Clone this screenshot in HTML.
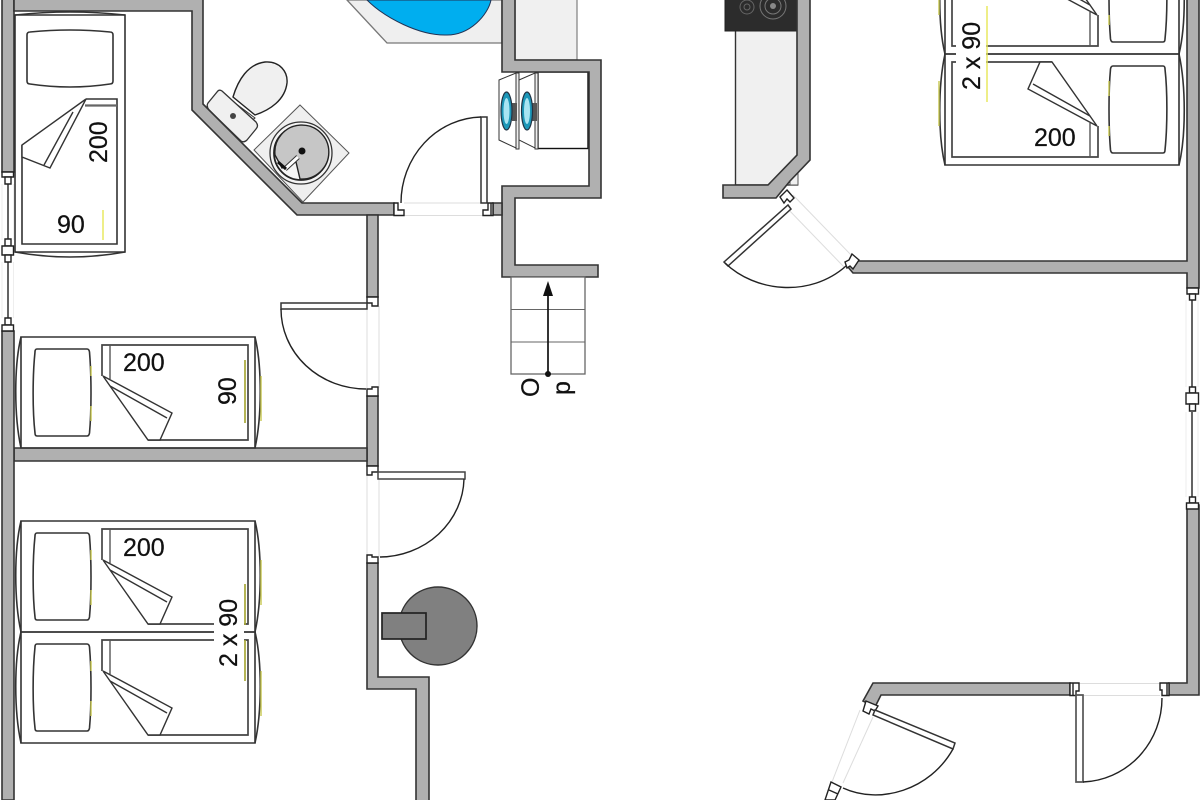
<!DOCTYPE html>
<html><head><meta charset="utf-8"><style>
html,body{margin:0;padding:0;background:#fff;width:1200px;height:800px;overflow:hidden}
svg{display:block;filter:blur(.35px)}
text{font-family:"Liberation Sans",sans-serif;font-size:25px;fill:#111;stroke:#111;stroke-width:.25}
.w{fill:#b0b0b0;stroke:#333;stroke-width:1.6;stroke-linejoin:miter}
.j{fill:#fff;stroke:#222;stroke-width:1.4}
.l{fill:#fff;stroke:#333;stroke-width:1.5}
.a{fill:none;stroke:#222;stroke-width:1.4}
.o{stroke:#ddd;stroke-width:1;fill:none}
.b{fill:none;stroke:#333;stroke-width:1.6}
</style></head><body>
<svg width="1200" height="800" viewBox="0 0 1200 800" xmlns="http://www.w3.org/2000/svg">
<rect width="1200" height="800" fill="#fff"/>
<defs>
<g id="bed">
<path class="b" d="M21,521H255V632H21Z"/>
<path class="b" d="M21,521C14,550 14,600 21,632M255,521C262,550 262,600 255,632"/>
<path class="b" d="M37,533H87Q89,533 89.500,536C91.500,560 91.500,595 89.500,617Q89,620 87,620H37Q35,620 35,617C32.500,595 32.500,560 35,536Q35,533 37,533Z"/>
<path d="M91,550V560M91,590V605M261,560V605" stroke="#c8c850" stroke-width="1.4" fill="none"/>
<path d="M102,560V529H248V624H148" fill="none" stroke="#444" stroke-width="1.7"/>
<path d="M110,529V563" fill="none" stroke="#555" stroke-width="1.4"/>
<path d="M103,560L172,597L160,624H148Z" fill="#fff" stroke="#333" stroke-width="1.4"/>
<path d="M110,570L167,602" fill="none" stroke="#333" stroke-width="1.4"/>
</g>
</defs>

<!-- bathroom fixtures -->
<path d="M347,0L387,43H502V0Z" fill="#efefef" stroke="#777" stroke-width="1.3"/>
<path d="M367,0C385,18 420,36 447,35C470,35 488,15 491,0Z" fill="#00aeef" stroke="#235" stroke-width="1"/>
<rect x="515" y="-2" width="62" height="62" fill="#f0f0f0" stroke="#888" stroke-width="1.3"/>

<!-- toilet -->
<path d="M233,97C238,80 248,64 265,62C280,61 288,72 287,83C285,100 270,110 255,115Z" fill="#f0f0f0" stroke="#222" stroke-width="1.4"/>
<path d="M231,100L255,118L250,122L226,103Z" fill="#f4f4f4" stroke="#333" stroke-width="1"/>
<path d="M222,91L256,122Q259,126 256,129L247,140Q244,143 241,141L209,110Q206,106 208,103L217,92Q219,89 222,91Z" fill="#f0f0f0" stroke="#333" stroke-width="1.3"/>
<circle cx="233" cy="116" r="3" fill="#444"/>
<!-- sink -->
<path d="M300,105L349,153L303,202L254,150Z" fill="#efefef" stroke="#555" stroke-width="1"/>
<circle cx="301" cy="153" r="31" fill="#f4f4f4" stroke="#333" stroke-width="1.3"/>
<circle cx="301" cy="153" r="27" fill="#f4f4f4" stroke="#222" stroke-width="1.8"/>
<path d="M275,155A27,27 0 1 1 300,179L296,162L282,168Z" fill="#c6c6c6" stroke="#222" stroke-width="1.4"/>
<circle cx="302" cy="151" r="3.500" fill="#111"/>
<path d="M298,157L285,169" stroke="#333" stroke-width="5"/>
<path d="M298,157L285,169" stroke="#fff" stroke-width="3"/>
<path d="M278,162L286,169" stroke="#111" stroke-width="3"/>

<!-- washers -->
<rect x="538" y="72" width="50" height="76.500" fill="#fff" stroke="#111" stroke-width="1.4"/>
<path d="M499,80L516,73V148L499,140Z" fill="#fff" stroke="#333" stroke-width="1"/>
<path d="M516,73H519V149H516Z" fill="#eee" stroke="#333" stroke-width="1"/>
<path d="M519,80L535,73V148L519,140Z" fill="#fff" stroke="#333" stroke-width="1"/>
<path d="M535,73H538V149H535Z" fill="#eee" stroke="#333" stroke-width="1"/>
<rect x="512" y="103" width="5" height="18" fill="#555"/>
<rect x="532" y="103" width="5" height="18" fill="#555"/>
<ellipse cx="506.500" cy="111" rx="5.500" ry="19" fill="#1c97b8" stroke="#234" stroke-width="1.2"/>
<ellipse cx="506.500" cy="111" rx="3" ry="13" fill="#a8e4f2"/>
<ellipse cx="527" cy="111" rx="5.500" ry="19" fill="#1c97b8" stroke="#234" stroke-width="1.2"/>
<ellipse cx="527" cy="111" rx="3" ry="13" fill="#a8e4f2"/>

<!-- kitchen -->
<rect x="735.500" y="30" width="62" height="155" fill="#f0f0f0" stroke="#333" stroke-width="1.4"/>
<rect x="790" y="172" width="8" height="13" fill="#f0f0f0" stroke="#555" stroke-width="1"/>
<rect x="725" y="-2" width="72" height="33" fill="#2c2c2c" stroke="#222" stroke-width="1"/>
<circle cx="773" cy="6" r="13" fill="none" stroke="#777" stroke-width="1"/>
<circle cx="773" cy="6" r="8" fill="none" stroke="#777" stroke-width="1"/>
<circle cx="773" cy="6" r="3" fill="#888"/>
<circle cx="747" cy="7" r="7" fill="none" stroke="#666" stroke-width="1"/>
<circle cx="747" cy="7" r="3" fill="none" stroke="#666" stroke-width="1"/>

<!-- walls -->
<path class="w" d="M2,-2H14V172H2Z"/>
<path class="w" d="M14,-2H203V104L302,203H394V215H297L192,110V11H14Z"/>
<path class="w" d="M502,-2H515V60H601V198H515V265H598V277H502V186H589V72H502Z"/>
<path class="w" d="M493,203H502V215H493Z"/>
<path class="w" d="M367,215H378V297H367Z"/>
<path class="w" d="M367,396H378V466H367Z"/>
<path class="w" d="M14,448H367V461H14Z"/>
<path class="w" d="M2,331H14V800H2Z"/>
<path class="w" d="M367,563H378V677H429V802H416V689H367Z"/>
<path class="w" d="M723,185H768L797,155V-2H810V160L790,181L776,198H723Z"/>
<path class="w" d="M857,261H1187V-2H1199V288H1187V273H853L848,267Z"/>
<path class="w" d="M1187,505H1199V695H1169V683H1187Z"/>
<path class="w" d="M873,683H1070V695H881L875,707L863,701Z"/>

<!-- door bath -->
<path class="o" d="M404,203H483M404,215.500H483"/>
<path class="j" d="M394,203H398V210H404V215.500H394Z"/>
<path class="j" d="M493,203H488V210H483V215.500H493Z"/>
<path d="M491,203V215" stroke="#222" stroke-width="1.4"/>
<path class="l" d="M481,117H487V203H481Z"/>
<path class="a" d="M481,117A82,86 0 0 0 401,203"/>

<!-- door bedroom 2 -->
<path class="o" d="M367,306V388M379,306V388"/>
<path class="j" d="M367,297H378V306H372V303H367Z"/>
<path class="j" d="M367,396H378V387H372V389H367Z"/>
<path class="l" d="M281,303H367V309H281Z"/>
<path class="a" d="M281,309A85,80 0 0 0 366,389"/>
<!-- door bedroom 3 -->
<path class="o" d="M367,475V557M379,475V557"/>
<path class="j" d="M367,466H378V472H372V475H367Z"/>
<path class="j" d="M367,563H378V557H372V555H367Z"/>
<path class="l" d="M378,472H465V479H378Z" style="stroke:#444"/>
<path class="a" d="M464,479A85,80 0 0 1 380,557"/>

<!-- left window -->
<path class="j" d="M2,172H13.500V177H2Z"/><path class="j" d="M5,177H11V184H5Z"/>
<path d="M8,184V240M8,262V318" stroke="#222" stroke-width="1.4"/>
<path d="M13.500,184V240M2,184V240M13.500,262V318M2,262V318" stroke="#eee" stroke-width="1"/>
<path class="j" d="M5,239H11V246H5Z"/><path class="j" d="M2,246H13.500V255H2Z"/><path class="j" d="M5,255H11V262H5Z"/>
<path class="j" d="M5,318H11V325H5Z"/><path class="j" d="M2,325H13.500V331H2Z"/>

<!-- right window -->
<path class="j" d="M1187,288H1198.500V294H1187Z"/><path class="j" d="M1189.500,294H1195.500V300H1189.500Z"/>
<path d="M1192,300V387M1192,412V497" stroke="#222" stroke-width="1.4"/>
<path d="M1186,300V387M1198,300V387M1186,412V497M1198,412V497" stroke="#eee" stroke-width="1"/>
<path class="j" d="M1189.500,387H1195.500V393H1189.500Z"/><path class="j" d="M1186,393H1198.500V404H1186Z"/><path class="j" d="M1189.500,404H1195.500V411H1189.500Z"/>
<path class="j" d="M1189.500,497H1195.500V503H1189.500Z"/><path class="j" d="M1186.500,503H1198.500V509H1186.500Z"/>

<!-- kitchen door -->
<path class="o" d="M793,195L853,257M786,207L844,267"/>
<path class="j" d="M787,190L794,198L790,202L787,199L784,203L780,197Z"/>
<path class="j" d="M852,254L859,260L853,269L850,266L847,268L845,262L849,260Z" />
<path class="l" d="M788,205L791,209L728,266L724,262Z"/>
<path class="a" d="M725,263C755,292 810,298 846,266"/>

<!-- bottom right door -->
<path class="o" d="M1079,683.500H1160M1079,695.500H1160"/>
<path class="j" d="M1070,683H1079V691H1076V695.500H1070Z"/>
<path class="j" d="M1169,683H1160V690H1162V695.500H1169Z"/>
<path d="M1073,683V695M1167,683V695" stroke="#222" stroke-width="1.4"/>
<path class="l" d="M1076,695H1083V782H1076Z" style="stroke:#555;stroke-width:1.7"/>
<path class="a" d="M1083,782A82,84 0 0 0 1162,698"/>

<!-- bottom left door -->
<path class="o" d="M860,710L832,782M873,717L843,783"/>
<path class="j" d="M866,701L878,706L875,711L871,709L869,714L863,711Z"/>
<path class="l" d="M875,710L955,743L953,749L873,715Z"/>
<path class="a" d="M953,749C930,790 880,805 843,788"/>
<path class="j" d="M831,782L841,787L835,800L825,800Z"/>
<path d="M829,790L838,794" stroke="#222" stroke-width="1.4"/>

<!-- beds left -->
<use href="#bed" transform="translate(0,-184)"/>
<use href="#bed"/>
<use href="#bed" transform="translate(0,111)"/>
<rect x="214" y="618" width="30" height="27" fill="#fff"/>
<path d="M245,360V423" stroke="#a8a838" stroke-width="1.700"/>
<path d="M245,584V625M245,640V681" stroke="#a8a838" stroke-width="1.700"/>

<!-- single bed top-left -->
<path class="b" d="M15,15H125V252H15Z"/>
<path class="b" d="M15,15Q70,9 125,15M15,252Q70,262 125,252"/>
<path class="b" d="M30,32Q70,28 110,32Q113,32 113,35V81Q113,84 110,84Q70,90 30,84Q27,84 27,81V35Q27,32 30,32Z"/>
<path d="M86,99H117V244H22V145" fill="none" stroke="#333" stroke-width="1.6"/>
<path d="M85,105.500H117" stroke="#666" stroke-width="2.200"/>
<path d="M86,99L22,145V157L50,168Z" fill="#fff" stroke="#333" stroke-width="1.4"/>
<path d="M73,112L44,165" fill="none" stroke="#333" stroke-width="1.4"/>
<path d="M103,210V240" stroke="#e8e860" stroke-width="1.500"/>
<text x="57" y="233">90</text>
<text transform="translate(107,163) rotate(-90)">200</text>

<text x="123" y="371">200</text>
<text transform="translate(236,405) rotate(-90)">90</text>
<text x="123" y="556">200</text>
<text transform="translate(237,667) rotate(-90)">2 x 90</text>

<!-- right beds -->
<g transform="translate(1200,686) rotate(180)">
<use href="#bed"/>
<use href="#bed" transform="translate(0,111)"/>
<rect x="214" y="618" width="30" height="27" fill="#fff"/>
</g>
<path d="M987,6V102" stroke="#e8e860" stroke-width="1.500"/>
<text x="1034" y="146">200</text>
<text transform="translate(980,90) rotate(-90)">2 x 90</text>

<!-- stairs -->
<rect x="511" y="277" width="74" height="97" fill="#fff" stroke="#666" stroke-width="1.3"/>
<path d="M511,309.500H585M511,342H585" stroke="#666" stroke-width="1.1"/>
<path d="M548,374V292" stroke="#111" stroke-width="1.700"/>
<path d="M548,281L553,296H543Z" fill="#111"/>
<circle cx="548" cy="374" r="3" fill="#111"/>
<text transform="translate(539,397) rotate(-90)">O</text>
<text transform="translate(570,395) rotate(-90)">p</text>

<!-- round stove -->
<circle cx="438" cy="626" r="39" fill="#808080" stroke="#333" stroke-width="1.4"/>
<rect x="382" y="613" width="44" height="26" fill="#808080" stroke="#222" stroke-width="1.700"/>
</svg>
</body></html>
